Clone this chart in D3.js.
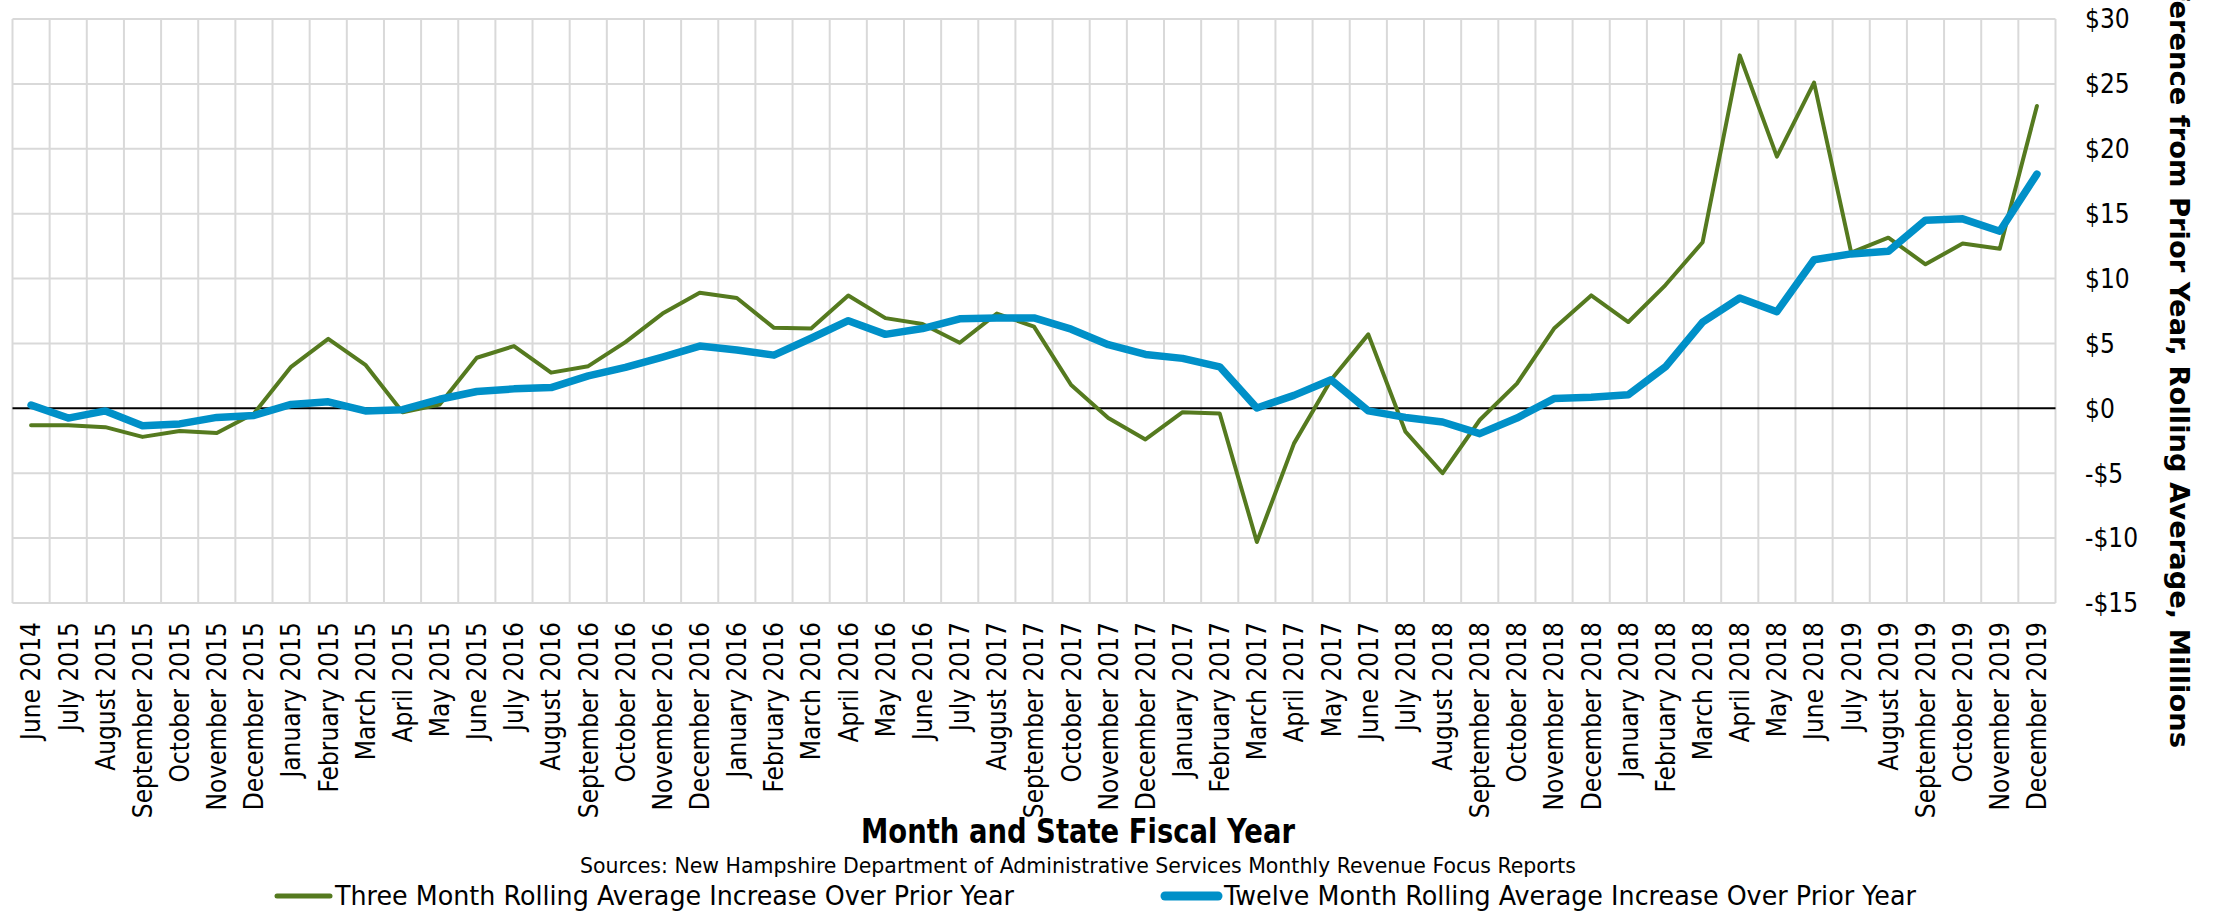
<!DOCTYPE html>
<html>
<head>
<meta charset="utf-8">
<script src="https://cdn.jsdelivr.net/npm/d3@7"></script>
<style>
  body { margin: 0; background: #fff; }
  svg text { font-family: 'DejaVu Sans', sans-serif; fill: #000; }
</style>
</head>
<body>
<div id="vis"></div>
<script>
const months = [
  'June 2014', 'July 2015', 'August 2015', 'September 2015', 'October 2015',
  'November 2015', 'December 2015', 'January 2015', 'February 2015', 'March 2015',
  'April 2015', 'May 2015', 'June 2015', 'July 2016', 'August 2016',
  'September 2016', 'October 2016', 'November 2016', 'December 2016', 'January 2016',
  'February 2016', 'March 2016', 'April 2016', 'May 2016', 'June 2016',
  'July 2017', 'August 2017', 'September 2017', 'October 2017', 'November 2017',
  'December 2017', 'January 2017', 'February 2017', 'March 2017', 'April 2017',
  'May 2017', 'June 2017', 'July 2018', 'August 2018', 'September 2018',
  'October 2018', 'November 2018', 'December 2018', 'January 2018', 'February 2018',
  'March 2018', 'April 2018', 'May 2018', 'June 2018', 'July 2019',
  'August 2019', 'September 2019', 'October 2019', 'November 2019', 'December 2019',
];

// $ millions
const threeMonth = [
  -1.3, -1.3, -1.45, -2.2, -1.75, -1.9, -0.4, 3.2, 5.35, 3.35,
  -0.3, 0.3, 3.9, 4.8, 2.75, 3.25, 5.1, 7.3, 8.9, 8.5,
  6.2, 6.15, 8.7, 6.95, 6.5, 5.05, 7.3, 6.3, 1.8, -0.75,
  -2.4, -0.3, -0.4, -10.3, -2.7, 2.2, 5.7, -1.8, -5.0, -0.9,
  1.9, 6.15, 8.7, 6.65, 9.5, 12.8, 27.2, 19.4, 25.1, 12.0,
  13.15, 11.1, 12.7, 12.3, 23.3,
];

const twelveMonth = [
  0.25, -0.75, -0.2, -1.35, -1.2, -0.7, -0.55, 0.3, 0.5, -0.2,
  -0.1, 0.7, 1.3, 1.5, 1.6, 2.5, 3.15, 3.95, 4.8, 4.5,
  4.1, 5.4, 6.75, 5.7, 6.15, 6.9, 6.97, 6.97, 6.1, 4.9,
  4.15, 3.85, 3.2, 0.03, 1.0, 2.2, -0.2, -0.7, -1.05, -1.95,
  -0.75, 0.75, 0.85, 1.05, 3.2, 6.65, 8.5, 7.45, 11.45, 11.9,
  12.1, 14.5, 14.6, 13.65, 18.05,
];

const yTicks = [-15, -10, -5, 0, 5, 10, 15, 20, 25, 30];

const seriesNames = [
  'Three Month Rolling Average Increase Over Prior Year',
  'Twelve Month Rolling Average Increase Over Prior Year',
];

const yTitle = 'Difference from Prior Year, Rolling Average, Millions';
const xTitle = 'Month and State Fiscal Year';
const sourceNote = 'Sources: New Hampshire Department of Administrative Services Monthly Revenue Focus Reports';


const width = 2220;
const height = 913;
const plot = {left: 12.5, right: 2055.5, top: 19, bottom: 603};
const squeeze = 0.9;

const green = '#557a1f';
const blue = '#0090c8';
const grid = '#d9d9d9';

const svg = d3.select('#vis').append('svg')
    .attr('width', width)
    .attr('height', height);

const x = d3.scaleBand()
    .domain(d3.range(months.length))
    .range([plot.left, plot.right])
    .padding(0);

const y = d3.scaleLinear()
    .domain([-15, 30])
    .range([plot.bottom, plot.top]);

const cx = i => x(i) + x.bandwidth() / 2;

// grid
svg.append('g')
  .selectAll('line')
  .data(d3.range(months.length + 1))
  .join('line')
    .attr('x1', i => i < months.length ? x(i) : plot.right)
    .attr('x2', i => i < months.length ? x(i) : plot.right)
    .attr('y1', plot.top)
    .attr('y2', plot.bottom)
    .attr('stroke', grid)
    .attr('stroke-width', 2);

svg.append('g')
  .selectAll('line')
  .data(yTicks)
  .join('line')
    .attr('x1', plot.left)
    .attr('x2', plot.right)
    .attr('y1', d => y(d))
    .attr('y2', d => y(d))
    .attr('stroke', d => d === 0 ? '#000' : grid)
    .attr('stroke-width', 2);

// series
const line = d3.line()
    .x((d, i) => cx(i))
    .y(d => y(d));

svg.append('path')
    .datum(threeMonth)
    .attr('d', line)
    .attr('fill', 'none')
    .attr('stroke', green)
    .attr('stroke-width', 4)
    .attr('stroke-linejoin', 'round')
    .attr('stroke-linecap', 'round');

svg.append('path')
    .datum(twelveMonth)
    .attr('d', line)
    .attr('fill', 'none')
    .attr('stroke', blue)
    .attr('stroke-width', 7.5)
    .attr('stroke-linejoin', 'round')
    .attr('stroke-linecap', 'round');

// x labels
svg.append('g')
  .selectAll('text')
  .data(months)
  .join('text')
    .attr('transform', (d, i) => `translate(${cx(i)}, 622) rotate(-90) scale(${squeeze}, 1)`)
    .attr('text-anchor', 'end')
    .attr('dy', '0.36em')
    .attr('font-size', 26)
    .text(d => d);

// y labels (right side)
svg.append('g')
  .selectAll('text')
  .data(yTicks)
  .join('text')
    .attr('transform', d => `translate(2085, ${y(d)}) scale(${squeeze}, 1)`)
    .attr('dy', '0.36em')
    .attr('font-size', 26)
    .text(d => d < 0 ? `-$${-d}` : `$${d}`);

// y title, runs off the top like the original
const yt = svg.append('text')
    .attr('text-anchor', 'end')
    .attr('font-size', 27)
    .attr('font-weight', 'bold')
    .text(yTitle);
const cut = yTitle.indexOf('erence');
const visibleLen = yt.node().getSubStringLength(cut, yTitle.length - cut);
yt.attr('transform', `translate(2170, 748) rotate(90) scale(${748 / visibleLen}, 1)`);

// x title and source
svg.append('text')
    .attr('x', 1078)
    .attr('y', 843)
    .attr('text-anchor', 'middle')
    .attr('font-size', 33)
    .attr('font-weight', 'bold')
    .attr('textLength', 434)
    .attr('lengthAdjust', 'spacingAndGlyphs')
    .text(xTitle);

svg.append('text')
    .attr('x', 1078)
    .attr('y', 873)
    .attr('text-anchor', 'middle')
    .attr('font-size', 22)
    .attr('textLength', 996)
    .attr('lengthAdjust', 'spacingAndGlyphs')
    .text(sourceNote);

// legend
const legend = [
  {name: seriesNames[0], color: green, w: 5, x0: 277, x1: 330, tx: 335, tl: 679},
  {name: seriesNames[1], color: blue, w: 9, x0: 1165, x1: 1218, tx: 1224, tl: 692},
];

const lg = svg.append('g')
  .selectAll('g')
  .data(legend)
  .join('g');

lg.append('line')
    .attr('x1', d => d.x0)
    .attr('x2', d => d.x1)
    .attr('y1', 896)
    .attr('y2', 896)
    .attr('stroke', d => d.color)
    .attr('stroke-width', d => d.w)
    .attr('stroke-linecap', 'round');

lg.append('text')
    .attr('x', d => d.tx)
    .attr('y', 905)
    .attr('font-size', 27)
    .attr('textLength', d => d.tl)
    .attr('lengthAdjust', 'spacingAndGlyphs')
    .text(d => d.name);
</script>
</body>
</html>
